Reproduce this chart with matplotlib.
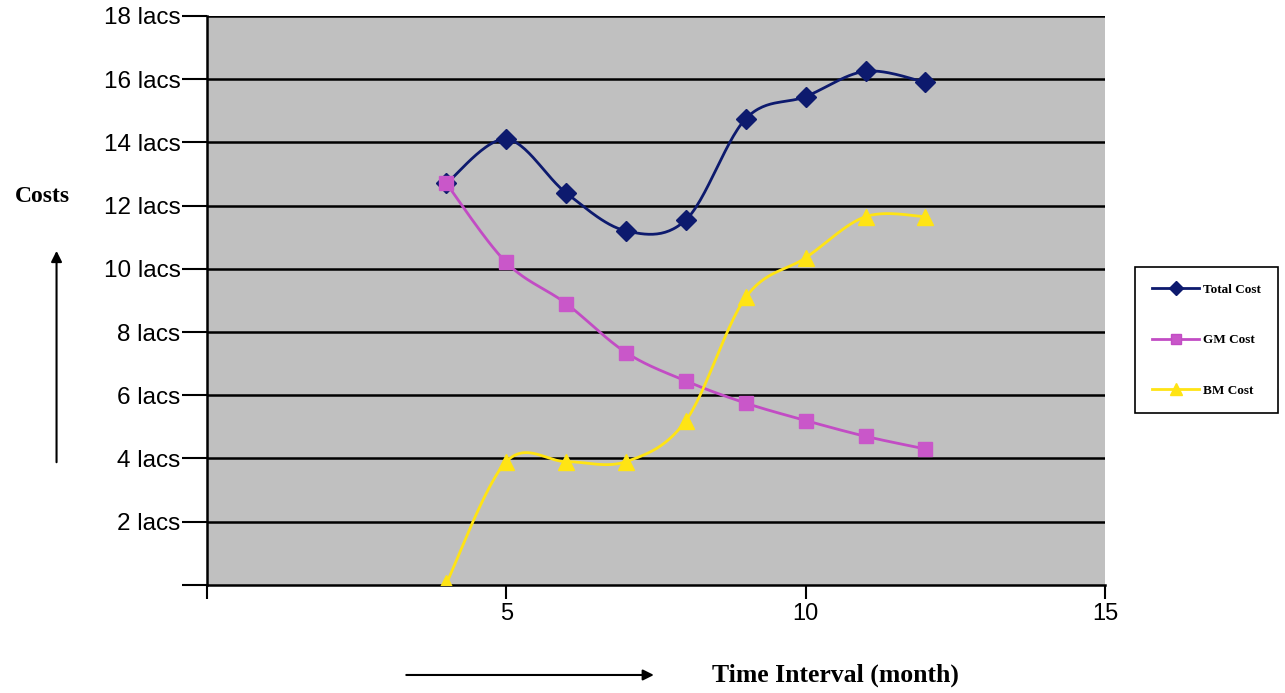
import numpy as np
import matplotlib
matplotlib.use("Agg")
import matplotlib.pyplot as plt

# data (values in lacs)
months = [4, 5, 6, 7, 8, 9, 10, 11, 12]
total_cost = [12.7, 14.1, 12.4, 11.2, 11.55, 14.75, 15.45, 16.25, 15.9]
gm_cost = [12.7, 10.2, 8.9, 7.35, 6.45, 5.75, 5.2, 4.7, 4.3]
bm_cost = [0.05, 3.9, 3.9, 3.9, 5.2, 9.1, 10.35, 11.65, 11.65]

y_ticks = [0, 2, 4, 6, 8, 10, 12, 14, 16, 18]
y_labels = [""] + ["%d lacs" % v for v in y_ticks[1:]]
x_ticks = [0, 5, 10, 15]
x_labels = ["", "5", "10", "15"]


# Excel-like smoothed line (bezier through every point)
def smooth(xs, ys, n=30):
    p = np.column_stack([xs, ys]).astype(float)
    out = []
    for i in range(len(p) - 1):
        p0 = p[i - 1] if i > 0 else p[i]
        p1 = p[i]
        p2 = p[i + 1]
        p3 = p[i + 2] if i + 2 < len(p) else p[i + 1]
        c1 = p1 + (p2 - p0) / 6.0
        c2 = p2 - (p3 - p1) / 6.0
        t = np.linspace(0, 1, n)[:, None]
        seg = ((1 - t) ** 3) * p1 + 3 * ((1 - t) ** 2) * t * c1 + 3 * (1 - t) * t ** 2 * c2 + t ** 3 * p2
        out.append(seg)
    out = np.vstack(out)
    return out[:, 0], out[:, 1]


fig = plt.figure(figsize=(12.85, 6.93), dpi=100)
ax = fig.add_axes([0.161, 0.156, 0.699, 0.821])
ax.set_facecolor("#c0c0c0")

navy = "#0d1a6e"
pink = "#c24cc4"
yellow = "#ffe414"

sx, sy = smooth(months, total_cost)
ax.plot(sx, sy, color=navy, lw=2, zorder=3)
ax.plot(months, total_cost, ls="none", marker="D", ms=10, color=navy, zorder=4)
sx, sy = smooth(months, gm_cost)
ax.plot(sx, sy, color=pink, lw=2, zorder=3)
ax.plot(months, gm_cost, ls="none", marker="s", ms=10, color="#c957c9", zorder=4)
sx, sy = smooth(months, bm_cost)
ax.plot(sx, sy, color=yellow, lw=2, zorder=3)
ax.plot(months, bm_cost, ls="none", marker="^", ms=11, color=yellow, zorder=4)

ax.set_xlim(0, 15)
ax.set_ylim(0, 18)
ax.set_xticks(x_ticks)
ax.set_xticklabels(x_labels, fontsize=17, family="Liberation Sans")
ax.set_yticks(y_ticks)
ax.set_yticklabels(y_labels, fontsize=17.5, family="Liberation Sans")
ax.tick_params(axis="y", direction="out", length=18, width=1.5, pad=1)
ax.tick_params(axis="x", direction="out", length=10, width=1.5, pad=3)
for v in y_ticks[1:]:
    ax.axhline(v, color="black", lw=1.8, zorder=2)
for s in ["top", "right"]:
    ax.spines[s].set_visible(False)
ax.spines["left"].set_linewidth(1.8)
ax.spines["bottom"].set_linewidth(1.8)

# legend
h1, = ax.plot([], [], color=navy, marker="D", ms=7, lw=2)
h2, = ax.plot([], [], color=pink, marker="s", ms=7, lw=2, markerfacecolor="#c957c9")
h3, = ax.plot([], [], color=yellow, marker="^", ms=8, lw=2)
leg = fig.legend([h1, h2, h3], ["Total Cost", "GM Cost", "BM Cost"],
                 loc="center", bbox_to_anchor=(0.939, 0.509),
                 prop={"family": "Liberation Serif", "weight": "bold", "size": 9.5},
                 labelspacing=2.9, handlelength=3.6, handletextpad=0.3,
                 borderpad=1.25, borderaxespad=0,
                 fancybox=False, edgecolor="black", framealpha=1)
leg.get_frame().set_linewidth(1.2)

# axis titles with arrows
fig.text(0.033, 0.716, "Costs", ha="center", va="center", fontsize=17,
         family="Liberation Serif", weight="bold")
fig.text(0.554, 0.026, "Time Interval (month)", ha="left", va="center", fontsize=18.5,
         family="Liberation Serif", weight="bold")
fig.add_artist(matplotlib.patches.FancyArrowPatch((0.044, 0.329), (0.044, 0.642),
               transform=fig.transFigure, arrowstyle="-|>", mutation_scale=16,
               color="black", lw=1.5))
fig.add_artist(matplotlib.patches.FancyArrowPatch((0.314, 0.026), (0.511, 0.026),
               transform=fig.transFigure, arrowstyle="-|>", mutation_scale=16,
               color="black", lw=1.5))

fig.savefig("out.png", dpi=100)
